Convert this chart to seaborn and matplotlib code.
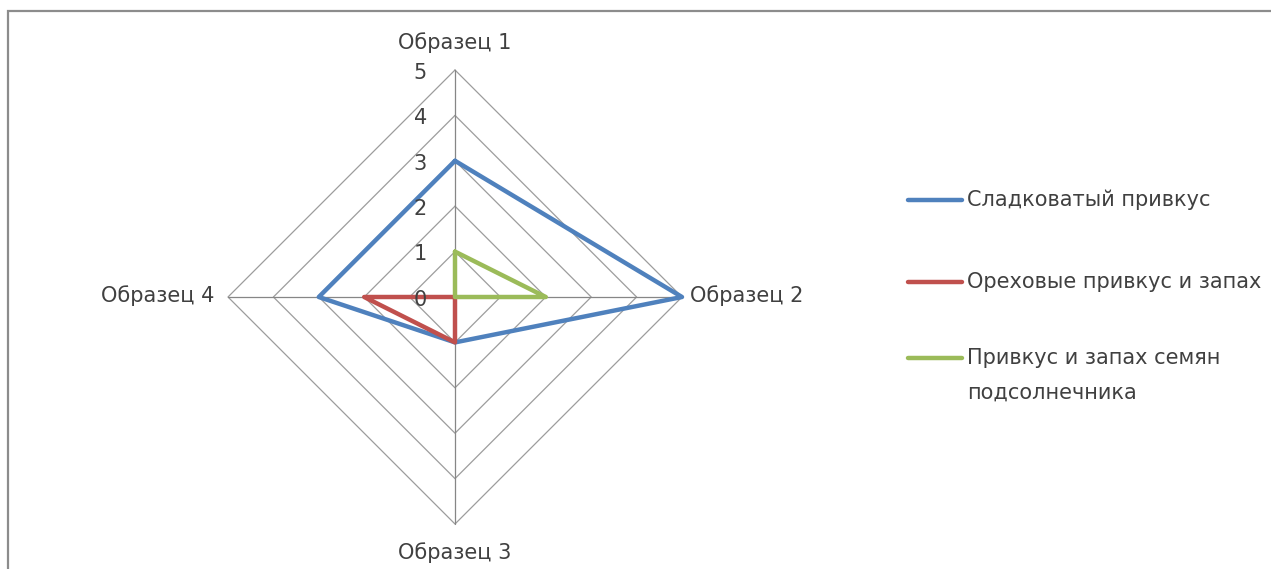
import numpy as np
import seaborn as sns
import matplotlib.pyplot as plt
from matplotlib.patches import Rectangle

sns.set_style("white")
plt.rcParams['font.family'] = ['DejaVu Sans']

# data
categories = ["Образец 1", "Образец 2", "Образец 3", "Образец 4"]
series_names = ["Сладковатый привкус", "Ореховые привкус и запах",
                "Привкус и запах семян\nподсолнечника"]
sweet = [3, 5, 1, 3]
nutty = [0, 0, 1, 2]
seeds = [1, 2, 0, 0]
levels = [0, 1, 2, 3, 4, 5]
colors = ["#4F81BD", "#C0504D", "#9BBB59"]

W, H = 1271, 569
CX, CY = 455, 297          # centre of the radar in pixels
U = 45.4                   # pixels per value unit

fig = plt.figure(figsize=(W / 100, H / 100), dpi=100)
ax = fig.add_axes([0, 0, 1, 1])
ax.set_xlim(-CX / U, (W - CX) / U)
ax.set_ylim(-(H - CY) / U, CY / U)
ax.axis("off")

theta = np.arange(len(categories)) * 2 * np.pi / len(categories)


def to_xy(vals):
    r = np.array(list(vals) + [vals[0]], dtype=float)
    t = np.append(theta, theta[0])
    return r * np.sin(t), r * np.cos(t)


def px(x, y):
    return (x - CX) / U, (CY - y) / U


# diamond grid
for lv in levels[1:]:
    gx, gy = to_xy([lv] * len(categories))
    ax.plot(gx, gy, color="#9C9C9C", lw=0.9, zorder=1)
for t in theta:
    ax.plot([0, levels[-1] * np.sin(t)], [0, levels[-1] * np.cos(t)],
            color="#868686", lw=0.9, zorder=1)

# series
for vals, name, c in zip([sweet, nutty, seeds], series_names, colors):
    sx, sy = to_xy(vals)
    sns.lineplot(x=sx, y=sy, sort=False, estimator=None, color=c, lw=3.2,
                 ax=ax, zorder=3, solid_joinstyle="round", legend=False)

# value labels on the first axis
txt = dict(color="#404040", fontsize=15)
for lv in levels:
    ax.text(-0.62, lv - 0.06, str(lv), ha="right", va="center", **txt)

# category labels
ax.text(*px(455, 43), categories[0], ha="center", va="center", **txt)
ax.text(*px(690, 296), categories[1], ha="left", va="center", **txt)
ax.text(*px(455, 553), categories[2], ha="center", va="center", **txt)
ax.text(*px(214, 296), categories[3], ha="right", va="center", **txt)

# legend
leg_y = [200, 282, 358]
for yy, name, c in zip(leg_y, series_names, colors):
    x0, y0 = px(908, yy)
    x1, _ = px(962, yy)
    ax.plot([x0, x1], [y0, y0], color=c, lw=3.2, solid_capstyle="round")
    multi = "\n" in name
    tx, ty = px(967, yy - 10 if multi else yy)
    ax.text(tx, ty, name, ha="left", va="top" if multi else "center",
            linespacing=1.92, **txt)

# chart border (left and top visible)
fig.add_artist(Rectangle((8 / W, -0.1), 1.2, (H - 11) / H + 0.1,
                         transform=fig.transFigure, fill=False,
                         edgecolor="#8C8C8C", lw=1.6))

fig.savefig("out.png", dpi=100)
